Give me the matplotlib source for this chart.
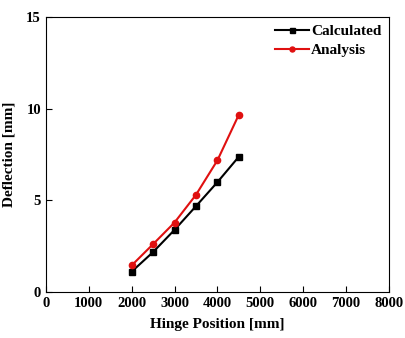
import matplotlib
matplotlib.use('Agg')
import matplotlib.pyplot as plt

# Data
hinge_pos = [2000, 2500, 3000, 3500, 4000, 4500]
calculated = [1.11, 2.18, 3.39, 4.68, 5.99, 7.38]
analysis = [1.45, 2.61, 3.79, 5.30, 7.18, 9.67]
x_ticks = [0, 1000, 2000, 3000, 4000, 5000, 6000, 7000, 8000]
y_ticks = [0, 5, 10, 15]

plt.rcParams['font.family'] = ['Liberation Serif', 'DejaVu Serif']
plt.rcParams['font.weight'] = 'bold'

fig = plt.figure(figsize=(4.06, 3.38), dpi=100)
ax = fig.add_axes([0.113, 0.136, 0.845, 0.814])

ax.plot(hinge_pos, calculated, color='black', marker='s', markersize=4.5,
        linewidth=1.5, label='Calculated')
ax.plot(hinge_pos, analysis, color='#e01010', marker='o', markersize=4.5,
        linewidth=1.5, label='Analysis')

ax.set_xlim(0, 8000)
ax.set_ylim(0, 15)
ax.set_xticks(x_ticks)
ax.set_yticks(y_ticks)
ax.tick_params(direction='in', labelsize=10.5, length=4, width=0.8)
for lab in ax.get_xticklabels() + ax.get_yticklabels():
    lab.set_fontweight('bold')

ax.set_xlabel('Hinge Position [mm]', fontsize=11, fontweight='bold', labelpad=6)
ax.set_ylabel('Deflection [mm]', fontsize=11, fontweight='bold', labelpad=8)

ax.legend(loc='upper right', frameon=False, fontsize=11, handlelength=2.2,
          handletextpad=0.15, borderaxespad=0.1, labelspacing=0.35,
          markerscale=0.8)

fig.savefig('out.png', dpi=100)
